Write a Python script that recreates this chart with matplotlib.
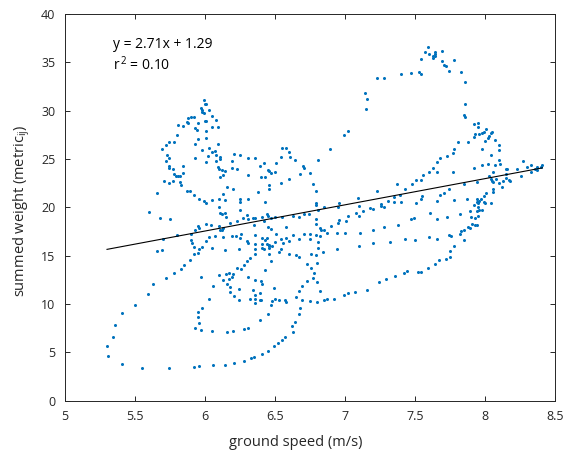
import matplotlib
matplotlib.use('Agg')
import matplotlib.pyplot as plt
from matplotlib.ticker import FuncFormatter, MultipleLocator

# ---------------------------------------------------------------------------
# (ground speed [m/s], summed weight), grouped by area

upper_left = [
    (5.99, 31.10), (6.00, 30.65), (6.01, 30.65), (5.97, 30.24), (5.98, 30.06),
    (5.98, 29.89), (5.99, 29.78), (6.03, 30.03), (6.05, 29.47), (5.88, 29.20),
    (5.90, 29.37), (5.92, 29.37), (5.87, 28.85), (5.88, 28.69), (5.95, 28.75),
    (6.00, 28.96), (6.01, 28.92), (6.08, 29.03), (5.81, 28.48), (5.84, 28.38),
    (5.93, 28.17), (5.94, 27.99), (6.01, 27.92), (6.05, 28.33), (6.09, 28.27),
    (5.80, 27.51), (5.95, 27.06), (6.01, 27.17), (5.78, 26.75), (5.74, 26.72),
    (5.72, 26.44), (5.93, 26.51), (6.09, 26.51), (5.69, 26.03), (5.98, 25.93),
    (6.03, 26.16), (6.05, 25.75), (6.07, 25.82), (6.08, 25.38), (5.73, 25.44),
    (5.93, 25.13), (6.02, 25.34), (5.74, 25.07), (5.72, 24.79), (6.01, 24.65),
    (6.08, 24.79), (6.11, 25.23), (6.11, 24.96), (5.74, 24.30), (5.74, 24.10),
    (5.84, 24.24), (6.09, 24.20), (6.10, 23.99), (5.77, 23.93), (6.12, 23.86),
    (6.14, 23.75), (5.84, 23.58), (5.78, 23.41), (5.79, 23.27), (5.81, 23.24),
    (5.82, 23.27), (6.13, 23.31), (6.11, 23.16), (5.71, 22.72), (5.74, 22.54),
    (5.77, 22.69), (5.82, 22.62), (5.83, 22.28), (6.16, 22.07), (5.66, 21.51),
    (5.87, 21.65), (5.89, 21.65), (5.92, 21.27), (5.96, 20.89), (5.99, 20.65),
    (6.01, 20.45), (6.05, 20.75), (6.10, 20.89), (6.13, 21.41), (6.10, 20.06),
    (5.60, 19.51), (6.11, 19.44), (6.12, 19.28), (6.14, 19.38), (6.15, 18.97),
    (5.68, 18.92), (5.75, 18.79), (5.95, 18.07), (5.96, 17.86), (5.93, 17.65),
    (6.01, 18.24), (6.04, 18.17), (6.10, 18.10), (6.11, 17.65), (6.12, 17.65),
    (6.13, 17.89), (5.80, 17.10), (5.90, 17.21), (6.03, 16.96), (6.07, 17.06),
    (6.13, 16.96), (5.70, 16.69), (5.90, 16.62), (5.91, 16.34), (6.01, 16.55),
    (6.18, 18.38), (6.14, 20.75),
]

lower_left = [
    (5.66, 15.48), (5.69, 15.62), (5.92, 15.93), (5.98, 15.86), (5.96, 15.66),
    (6.05, 15.76), (6.14, 15.58), (5.92, 15.17), (5.95, 15.24), (5.89, 14.52),
    (5.85, 14.00), (5.83, 13.59), (5.78, 13.24), (5.72, 12.72), (5.63, 12.04),
    (5.59, 11.03), (5.50, 9.93), (5.41, 9.04), (5.36, 7.86), (5.34, 6.56),
    (5.30, 5.63), (5.31, 4.65), (5.41, 3.76), (5.55, 3.38), (5.74, 3.38),
    (5.92, 3.49), (5.96, 3.56), (6.06, 3.66), (6.14, 3.69), (5.97, 12.82),
    (6.06, 11.89), (6.03, 10.49), (5.98, 9.62), (5.95, 9.17), (5.95, 8.62),
    (5.96, 8.04), (5.93, 7.49), (5.97, 7.31), (6.05, 7.21), (6.16, 7.07),
    (6.10, 12.97), (6.13, 12.51), (6.15, 13.07), (6.17, 13.24), (6.17, 12.55),
    (6.16, 12.07), (6.18, 11.73),
]

upper_middle = [
    (7.14, 31.79), (7.16, 31.17), (7.15, 30.13), (6.99, 27.48), (7.02, 27.92),
    (6.89, 26.03), (6.55, 26.16), (6.58, 26.10), (6.60, 25.72), (6.61, 25.20),
    (6.64, 24.86), (6.54, 25.23), (6.81, 24.89), (6.21, 25.48), (6.25, 25.41),
    (6.31, 25.07), (6.36, 25.10), (6.19, 24.82), (6.42, 24.55), (6.39, 24.24),
    (6.51, 24.55), (6.19, 24.10), (6.23, 23.93), (6.45, 23.89), (6.46, 23.72),
    (6.47, 23.52), (6.50, 23.62), (6.70, 24.24), (6.71, 24.03), (6.75, 23.55),
    (6.68, 23.41), (6.31, 23.37), (6.40, 23.10), (6.43, 23.10), (6.60, 22.90),
    (6.54, 22.51), (6.46, 22.31), (6.46, 21.89), (6.20, 21.89), (6.77, 22.38),
    (6.79, 21.65), (6.38, 21.61), (7.23, 21.72), (6.25, 20.83), (6.25, 20.58),
    (6.31, 20.83), (6.43, 20.58), (7.09, 20.93), (6.79, 20.41), (6.79, 20.27),
    (6.96, 20.48), (6.95, 20.06), (6.85, 20.06), (7.10, 20.17), (7.18, 19.90),
    (7.20, 19.82), (7.26, 20.31), (7.26, 20.17), (7.28, 20.03), (6.25, 19.69),
    (6.30, 19.23), (6.31, 18.82), (6.27, 18.92), (6.34, 18.89), (6.36, 18.92),
    (6.41, 19.03), (6.44, 19.28), (6.45, 19.10), (6.47, 18.89), (6.50, 19.03),
    (6.55, 19.00), (6.63, 19.13), (6.67, 19.03), (6.71, 19.34), (6.74, 19.28),
    (6.81, 19.69), (6.79, 18.79), (7.08, 19.38), (7.10, 19.13), (7.13, 19.65),
    (7.02, 19.10), (7.01, 18.58), (6.95, 18.38), (6.96, 18.66), (6.90, 18.04),
    (6.23, 18.58), (6.35, 18.20), (6.42, 18.55), (6.79, 18.24), (6.45, 17.99),
    (6.47, 17.79), (6.58, 17.99), (6.82, 17.89), (6.83, 17.65), (6.85, 17.62),
    (6.87, 17.31), (7.20, 17.68), (7.28, 17.93), (7.11, 17.31), (6.19, 17.03),
    (6.22, 17.06), (6.26, 17.21), (6.36, 17.17), (6.51, 17.24), (6.63, 17.10),
    (6.67, 16.72), (6.71, 17.21), (6.75, 17.27), (6.75, 16.72), (6.79, 17.10),
    (6.82, 17.06), (6.94, 17.31), (7.00, 17.31), (6.25, 16.79), (6.30, 16.48),
    (6.31, 16.31), (6.41, 16.86), (6.43, 16.62), (6.44, 16.79), (6.54, 16.72),
    (6.58, 16.86), (6.60, 16.55), (6.56, 16.31), (6.36, 16.20), (6.41, 16.17),
    (6.44, 16.20), (6.46, 16.13), (6.50, 16.44), (6.81, 16.38), (7.20, 16.34),
]

lower_middle = [
    (6.46, 16.00), (6.48, 16.05), (6.46, 15.76), (6.24, 15.66), (6.36, 15.72),
    (6.36, 15.20), (6.41, 15.82), (6.42, 15.69), (6.46, 15.20), (6.54, 15.66),
    (6.53, 15.35), (6.60, 15.20), (6.65, 15.04), (6.67, 14.83), (6.76, 15.20),
    (6.79, 15.04), (6.81, 15.76), (6.84, 15.41), (6.94, 15.66), (7.10, 16.03),
    (6.32, 14.73), (6.30, 14.42), (6.28, 14.00), (6.26, 13.65), (6.23, 13.69),
    (6.47, 14.48), (6.20, 13.13), (6.19, 12.82), (6.18, 11.27), (6.21, 10.83),
    (6.24, 10.44), (6.24, 11.52), (6.31, 12.79), (6.36, 12.45), (6.40, 12.41),
    (6.41, 12.07), (6.43, 13.55), (6.34, 11.45), (6.36, 10.93), (6.39, 11.11),
    (6.32, 10.52), (6.36, 10.49), (6.36, 10.10), (6.39, 10.38), (6.40, 10.41),
    (6.49, 11.62), (6.48, 10.31), (6.50, 10.49), (6.53, 10.44), (6.57, 10.44),
    (6.58, 10.21), (6.47, 9.87), (6.45, 8.97), (6.39, 8.31), (6.73, 14.11),
    (6.76, 13.75), (6.80, 14.27), (6.78, 13.24), (6.77, 12.66), (6.80, 12.31),
    (6.73, 12.35), (6.69, 11.86), (6.67, 11.34), (6.65, 10.72), (6.69, 10.41),
    (6.68, 9.56), (6.67, 9.00), (6.64, 8.17), (6.62, 7.72), (6.63, 7.10),
    (6.57, 6.62), (6.55, 6.31), (6.52, 5.97), (6.49, 5.66), (6.45, 5.17),
    (6.41, 4.86), (6.35, 4.49), (6.33, 4.38), (6.28, 4.14), (6.21, 3.93),
    (6.82, 11.34), (6.75, 10.28), (6.80, 10.18), (6.85, 10.38), (6.87, 10.52),
    (6.92, 10.55), (6.99, 10.96), (7.02, 11.11), (7.07, 11.27), (7.16, 11.48),
    (7.24, 12.24), (6.20, 7.24), (6.28, 7.38), (6.31, 7.52),
]

upper_right = [
    (7.23, 33.40), (7.28, 33.40), (7.40, 33.78), (7.47, 33.92), (7.53, 34.02),
    (7.54, 33.75), (7.59, 36.55), (7.57, 36.03), (7.60, 35.82), (7.64, 36.03),
    (7.64, 35.85), (7.63, 35.65), (7.64, 35.65), (7.63, 35.41), (7.69, 36.19),
    (7.54, 35.34), (7.69, 35.16), (7.71, 34.68), (7.72, 34.58), (7.74, 34.13),
    (7.78, 35.20), (7.83, 33.96), (7.86, 32.96), (7.86, 30.65), (7.85, 29.54),
    (7.86, 29.31), (7.92, 28.58), (7.95, 28.72), (7.95, 28.27), (7.93, 27.58),
    (7.96, 27.58), (7.98, 27.68), (7.99, 27.76), (8.01, 28.07), (8.05, 27.79),
    (8.04, 27.65), (8.03, 27.34), (8.02, 27.14), (8.00, 26.86), (7.92, 27.24),
    (7.88, 26.72), (7.81, 26.75), (8.07, 26.96), (8.10, 26.41), (8.10, 25.89),
    (7.98, 26.06), (7.78, 26.03), (7.77, 25.62),
]

lower_right = [
    (7.68, 25.06), (7.66, 24.65), (7.63, 24.10), (7.60, 23.65), (7.56, 23.31),
    (7.54, 22.79), (7.51, 22.85), (7.48, 22.41), (7.43, 21.89), (7.37, 22.38),
    (7.39, 21.30), (7.35, 21.03), (7.31, 20.68), (7.35, 20.52), (7.40, 20.52),
    (7.51, 20.48), (7.54, 20.83), (7.55, 21.17), (7.66, 20.65), (7.68, 21.27),
    (7.71, 21.45), (7.74, 21.86), (7.77, 23.62), (7.66, 23.62), (7.73, 25.27),
    (7.92, 24.03), (7.98, 24.34), (8.02, 24.51), (8.04, 25.38), (8.10, 24.89),
    (8.07, 24.34), (8.11, 24.45), (8.15, 23.96), (8.16, 23.96), (8.23, 23.93),
    (8.27, 24.79), (8.30, 24.14), (8.33, 24.41), (8.36, 23.93), (8.37, 24.14),
    (8.40, 24.14), (8.41, 24.41), (8.33, 23.62), (8.37, 23.86), (8.26, 23.27),
    (8.03, 23.27), (8.04, 22.96), (8.06, 23.62), (8.05, 22.75), (8.06, 22.59),
    (8.12, 22.13), (8.08, 22.90), (8.10, 22.54), (8.13, 22.75), (8.15, 23.03),
    (8.15, 23.41), (8.17, 22.82), (8.18, 22.69), (8.06, 21.92), (8.06, 21.55),
    (7.94, 22.65), (7.85, 22.41), (8.01, 21.51), (7.99, 21.14), (7.97, 20.83),
    (7.96, 20.65), (7.94, 20.83), (7.94, 20.58), (7.95, 20.48), (7.99, 20.55),
    (8.00, 20.44), (8.04, 20.48), (7.92, 20.27), (7.87, 20.83), (7.78, 20.75),
    (7.95, 20.03), (7.94, 19.62), (7.96, 19.72), (7.98, 19.69), (7.89, 19.59),
    (7.90, 19.03), (7.93, 18.92), (7.95, 19.10), (7.91, 18.24), (7.93, 18.20),
    (7.94, 18.20), (7.88, 17.99), (7.89, 17.86), (7.85, 17.65), (7.83, 17.52),
    (7.82, 17.24), (7.85, 16.62), (7.78, 15.97), (7.75, 15.48), (7.75, 14.86),
    (7.72, 14.65), (7.67, 14.52), (7.64, 14.17), (7.59, 13.69), (7.54, 13.31),
    (7.52, 13.34), (7.44, 13.41), (7.42, 13.21), (7.36, 12.86), (7.29, 12.59),
    (7.82, 19.28), (7.73, 19.03), (7.66, 18.79), (7.61, 19.38), (7.49, 18.86),
    (7.47, 18.79), (7.38, 18.20), (7.74, 17.14), (7.76, 17.03), (7.66, 16.69),
    (7.60, 16.90), (7.50, 16.62), (7.43, 16.69), (7.32, 16.38),
]

# linear fit shown on the chart
slope = 2.71
intercept = 1.29
r_squared = 0.10

# ---------------------------------------------------------------------------

plt.rcParams['font.family'] = ['Open Sans', 'DejaVu Sans']
plt.rcParams['mathtext.default'] = 'regular'

DOT = '#0072BD'
AX = '0.15'

samples = upper_left + lower_left + upper_middle + lower_middle + upper_right + lower_right
speed = [s for s, w in samples]
weight = [w for s, w in samples]

fig = plt.figure(figsize=(5.63, 4.5), dpi=100)
ax = fig.add_axes([0.1155, 0.1096, 0.8703, 0.8593])

ax.plot(speed, weight, 'o', color=DOT, markersize=2.2, markeredgewidth=0)

xfit = [min(speed), max(speed)]
yfit = [slope * v + intercept for v in xfit]
ax.plot(xfit, yfit, color='black', linewidth=0.8)

ax.text(5.34, 36.5, 'y = %.2fx + %.2f' % (slope, intercept), fontsize=10,
        color='black', ha='left', va='baseline')
ax.text(5.34, 34.25, 'r$^{\\,2}$ = %.2f' % r_squared, fontsize=10,
        color='black', ha='left', va='baseline')

ax.set_xlim(5, 8.5)
ax.set_ylim(0, 40)
ax.xaxis.set_major_locator(MultipleLocator(0.5))
ax.yaxis.set_major_locator(MultipleLocator(5))
ax.xaxis.set_major_formatter(FuncFormatter(lambda v, p: '%g' % v))
ax.yaxis.set_major_formatter(FuncFormatter(lambda v, p: '%g' % v))

for sp in ax.spines.values():
    sp.set_color(AX)
    sp.set_linewidth(0.7)
ax.tick_params(direction='in', length=3.5, width=0.7, color=AX,
               labelcolor=AX, labelsize=9, pad=7,
               top=True, right=True)

ax.set_xlabel('ground speed (m/s)', fontsize=10.5, color=AX)
ax.set_ylabel('summed weight (metric$_{ij}$)', fontsize=10.5, color=AX)
ax.xaxis.set_label_coords(0.471, -0.088)
ax.yaxis.set_label_coords(-0.067, 0.49)

fig.savefig('out.png', dpi=100)
